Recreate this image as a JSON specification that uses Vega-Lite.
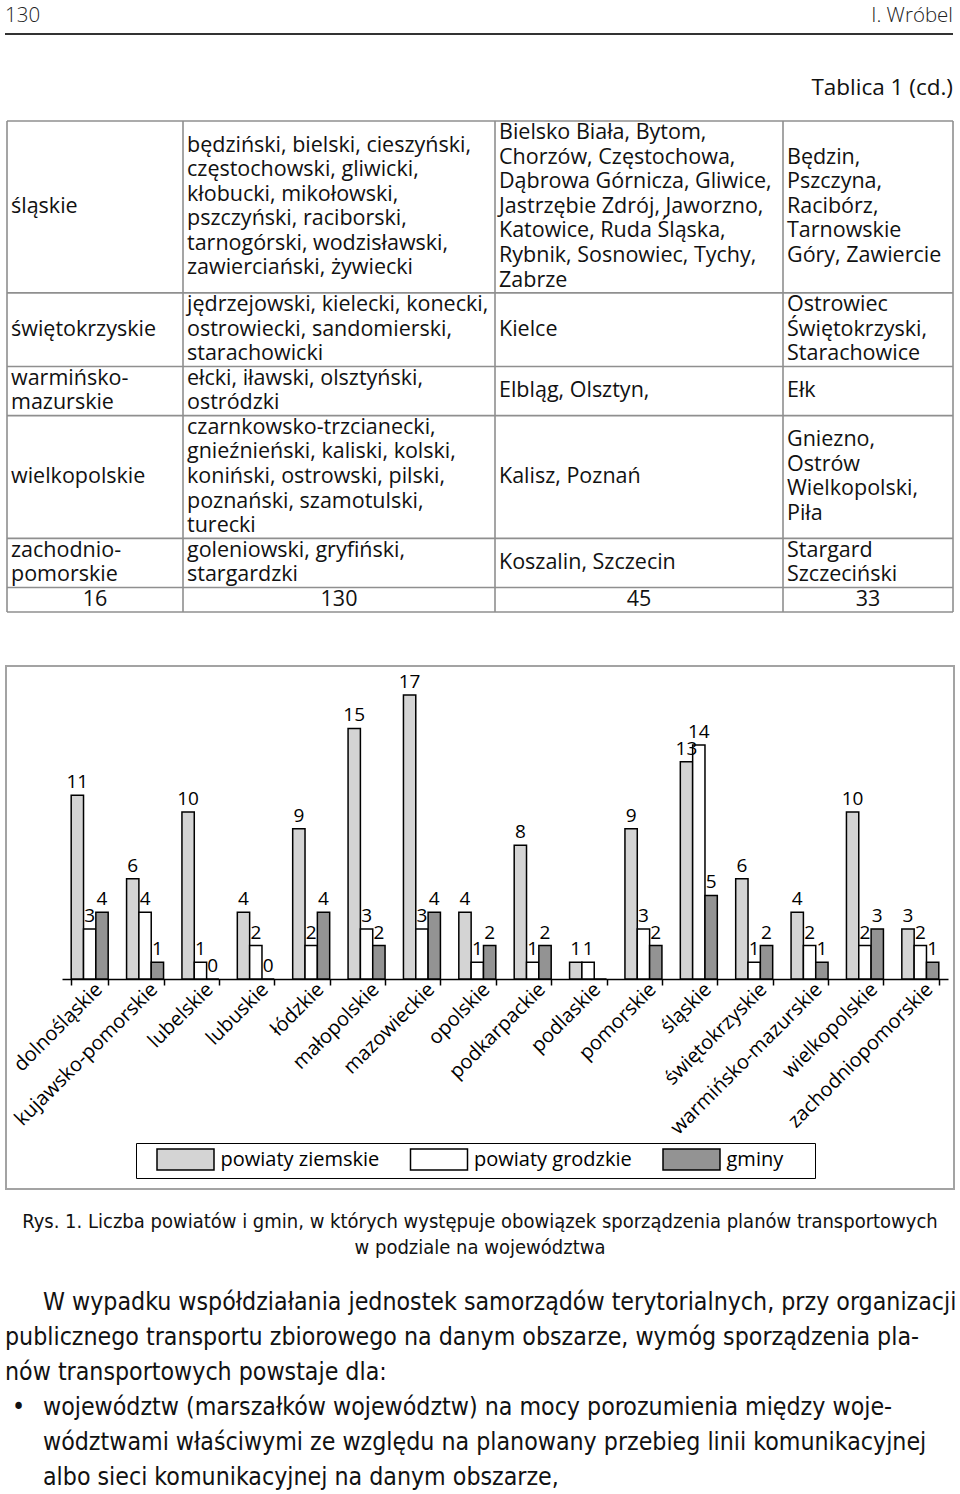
{
  "$schema": "https://vega.github.io/schema/vega-lite/v6.json",
  "padding": {"left": -3, "right": 3, "top": 0, "bottom": 0},
  "background": "white",
  "spacing": 0,
  "bounds": "flush",
  "center": true,
  "config": {"view": {"stroke": null}, "font": "Open Sans"},
  "vconcat": [
    {
      "width": 960,
      "height": 666,
      "layer": [
        {
          "data": {"values": [{"text": "130", "side": 0, "slot": 0}]},
          "mark": {"type": "text", "align": "left", "baseline": "middle", "fontSize": 20.5, "fontWeight": 300, "color": "#222", "font": "Open Sans"},
          "encoding": {
            "x": {"field": "side", "type": "quantitative", "scale": {"domain": [0, 1], "range": [5, 953], "nice": false}, "axis": null},
            "y": {"field": "slot", "type": "quantitative", "scale": {"domain": [0, 1, 2], "range": [15.5, 34, 88], "nice": false}, "axis": null},
            "text": {"field": "text"}
          }
        },
        {
          "data": {"values": [{"text": "I. Wróbel", "side": 1, "slot": 0}]},
          "mark": {"type": "text", "align": "right", "baseline": "middle", "fontSize": 20.5, "fontWeight": 300, "color": "#222", "font": "Open Sans"},
          "encoding": {
            "x": {"field": "side", "type": "quantitative", "scale": {"domain": [0, 1], "range": [5, 953], "nice": false}, "axis": null},
            "y": {"field": "slot", "type": "quantitative", "scale": {"domain": [0, 1, 2], "range": [15.5, 34, 88], "nice": false}, "axis": null},
            "text": {"field": "text"}
          }
        },
        {
          "data": {"values": [{"from": 0, "to": 1, "slot": 1}]},
          "mark": {"type": "rule", "stroke": "#333", "strokeWidth": 2},
          "encoding": {
            "x": {"field": "from", "type": "quantitative", "scale": {"domain": [0, 1], "range": [5, 953], "nice": false}, "axis": null},
            "x2": {"field": "to"},
            "y": {"field": "slot", "type": "quantitative", "scale": {"domain": [0, 1, 2], "range": [15.5, 34, 88], "nice": false}, "axis": null}
          }
        },
        {
          "data": {"values": [{"text": "Tablica 1 (cd.)", "side": 1, "slot": 2}]},
          "mark": {"type": "text", "align": "right", "baseline": "middle", "fontSize": 22.5, "color": "#111", "font": "Open Sans"},
          "encoding": {
            "x": {"field": "side", "type": "quantitative", "scale": {"domain": [0, 1], "range": [5, 953], "nice": false}, "axis": null},
            "y": {"field": "slot", "type": "quantitative", "scale": {"domain": [0, 1, 2], "range": [15.5, 34, 88], "nice": false}, "axis": null},
            "text": {"field": "text"}
          }
        },
        {
          "data": {"values": [
            {"c": 1, "g": 3.5, "text": "śląskie"},
            {"c": 2, "g": 1, "text": "będziński, bielski, cieszyński,"},
            {"c": 2, "g": 2, "text": "częstochowski, gliwicki,"},
            {"c": 2, "g": 3, "text": "kłobucki, mikołowski,"},
            {"c": 2, "g": 4, "text": "pszczyński, raciborski,"},
            {"c": 2, "g": 5, "text": "tarnogórski, wodzisławski,"},
            {"c": 2, "g": 6, "text": "zawierciański, żywiecki"},
            {"c": 3, "g": 0.5, "text": "Bielsko Biała, Bytom,"},
            {"c": 3, "g": 1.5, "text": "Chorzów, Częstochowa,"},
            {"c": 3, "g": 2.5, "text": "Dąbrowa Górnicza, Gliwice,"},
            {"c": 3, "g": 3.5, "text": "Jastrzębie Zdrój, Jaworzno,"},
            {"c": 3, "g": 4.5, "text": "Katowice, Ruda Śląska,"},
            {"c": 3, "g": 5.5, "text": "Rybnik, Sosnowiec, Tychy,"},
            {"c": 3, "g": 6.5, "text": "Zabrze"},
            {"c": 4, "g": 1.5, "text": "Będzin,"},
            {"c": 4, "g": 2.5, "text": "Pszczyna,"},
            {"c": 4, "g": 3.5, "text": "Racibórz,"},
            {"c": 4, "g": 4.5, "text": "Tarnowskie"},
            {"c": 4, "g": 5.5, "text": "Góry, Zawiercie"},
            {"c": 1, "g": 8.5, "text": "świętokrzyskie"},
            {"c": 2, "g": 7.5, "text": "jędrzejowski, kielecki, konecki,"},
            {"c": 2, "g": 8.5, "text": "ostrowiecki, sandomierski,"},
            {"c": 2, "g": 9.5, "text": "starachowicki"},
            {"c": 3, "g": 8.5, "text": "Kielce"},
            {"c": 4, "g": 7.5, "text": "Ostrowiec"},
            {"c": 4, "g": 8.5, "text": "Świętokrzyski,"},
            {"c": 4, "g": 9.5, "text": "Starachowice"},
            {"c": 1, "g": 10.5, "text": "warmińsko-"},
            {"c": 1, "g": 11.5, "text": "mazurskie"},
            {"c": 2, "g": 10.5, "text": "ełcki, iławski, olsztyński,"},
            {"c": 2, "g": 11.5, "text": "ostródzki"},
            {"c": 3, "g": 11, "text": "Elbląg, Olsztyn,"},
            {"c": 4, "g": 11, "text": "Ełk"},
            {"c": 1, "g": 14.5, "text": "wielkopolskie"},
            {"c": 2, "g": 12.5, "text": "czarnkowsko-trzcianecki,"},
            {"c": 2, "g": 13.5, "text": "gnieźnieński, kaliski, kolski,"},
            {"c": 2, "g": 14.5, "text": "koniński, ostrowski, pilski,"},
            {"c": 2, "g": 15.5, "text": "poznański, szamotulski,"},
            {"c": 2, "g": 16.5, "text": "turecki"},
            {"c": 3, "g": 14.5, "text": "Kalisz, Poznań"},
            {"c": 4, "g": 13, "text": "Gniezno,"},
            {"c": 4, "g": 14, "text": "Ostrów"},
            {"c": 4, "g": 15, "text": "Wielkopolski,"},
            {"c": 4, "g": 16, "text": "Piła"},
            {"c": 1, "g": 17.5, "text": "zachodnio-"},
            {"c": 1, "g": 18.5, "text": "pomorskie"},
            {"c": 2, "g": 17.5, "text": "goleniowski, gryfiński,"},
            {"c": 2, "g": 18.5, "text": "stargardzki"},
            {"c": 3, "g": 18, "text": "Koszalin, Szczecin"},
            {"c": 4, "g": 17.5, "text": "Stargard"},
            {"c": 4, "g": 18.5, "text": "Szczeciński"}
          ]},
          "mark": {"type": "text", "align": "left", "baseline": "middle", "fontSize": 21.5, "dx": 4, "color": "#111", "font": "Open Sans"},
          "encoding": {
            "x": {"field": "c", "type": "quantitative", "scale": {"domain": [1, 2, 3, 4], "range": [7, 183, 495, 783], "nice": false}, "axis": null},
            "y": {"field": "g", "type": "quantitative", "scale": {"domain": [0, 20], "range": [121, 612], "nice": false, "zero": false}, "axis": null},
            "text": {"field": "text"}
          }
        },
        {
          "data": {"values": [
            {"c": 1, "g": 19.5, "text": "16"},
            {"c": 2, "g": 19.5, "text": "130"},
            {"c": 3, "g": 19.5, "text": "45"},
            {"c": 4, "g": 19.5, "text": "33"}
          ]},
          "mark": {"type": "text", "align": "center", "baseline": "middle", "fontSize": 21.5, "color": "#111", "font": "Open Sans"},
          "encoding": {
            "x": {"field": "c", "type": "quantitative", "scale": {"domain": [1, 2, 3, 4], "range": [95, 339, 639, 868], "nice": false}, "axis": null},
            "y": {"field": "g", "type": "quantitative", "scale": {"domain": [0, 20], "range": [121, 612], "nice": false, "zero": false}, "axis": null},
            "text": {"field": "text"}
          }
        },
        {
          "data": {"values": [{"g": 0}, {"g": 7}, {"g": 10}, {"g": 12}, {"g": 17}, {"g": 19}, {"g": 20}]},
          "mark": {"type": "rule", "stroke": "#8f8f8f", "strokeWidth": 1.6},
          "encoding": {
            "y": {"field": "g", "type": "quantitative", "scale": {"domain": [0, 20], "range": [121, 612], "nice": false, "zero": false}, "axis": null},
            "x": {"datum": 1, "type": "quantitative", "scale": {"domain": [1, 2, 3, 4, 5], "range": [7, 183, 495, 783, 953], "nice": false}, "axis": null},
            "x2": {"datum": 5}
          }
        },
        {
          "data": {"values": [{"c": 1}, {"c": 2}, {"c": 3}, {"c": 4}, {"c": 5}]},
          "mark": {"type": "rule", "stroke": "#8f8f8f", "strokeWidth": 1.6},
          "encoding": {
            "x": {"field": "c", "type": "quantitative", "scale": {"domain": [1, 2, 3, 4, 5], "range": [7, 183, 495, 783, 953], "nice": false}, "axis": null},
            "y": {"datum": 0, "type": "quantitative", "scale": {"domain": [0, 20], "range": [121, 612], "nice": false}, "axis": null},
            "y2": {"datum": 20}
          }
        }
      ],
      "resolve": {"scale": {"x": "independent", "y": "independent"}}
    },
    {
      "width": 948,
      "height": 523,
      "view": {"stroke": "#a3a3a3", "strokeWidth": 2},
      "data": {"values": [
        {"v": "dolnośląskie", "t": "powiaty ziemskie", "n": 11},
        {"v": "dolnośląskie", "t": "powiaty grodzkie", "n": 3},
        {"v": "dolnośląskie", "t": "gminy", "n": 4},
        {"v": "kujawsko-pomorskie", "t": "powiaty ziemskie", "n": 6},
        {"v": "kujawsko-pomorskie", "t": "powiaty grodzkie", "n": 4},
        {"v": "kujawsko-pomorskie", "t": "gminy", "n": 1},
        {"v": "lubelskie", "t": "powiaty ziemskie", "n": 10},
        {"v": "lubelskie", "t": "powiaty grodzkie", "n": 1},
        {"v": "lubelskie", "t": "gminy", "n": 0},
        {"v": "lubuskie", "t": "powiaty ziemskie", "n": 4},
        {"v": "lubuskie", "t": "powiaty grodzkie", "n": 2},
        {"v": "lubuskie", "t": "gminy", "n": 0},
        {"v": "łódzkie", "t": "powiaty ziemskie", "n": 9},
        {"v": "łódzkie", "t": "powiaty grodzkie", "n": 2},
        {"v": "łódzkie", "t": "gminy", "n": 4},
        {"v": "małopolskie", "t": "powiaty ziemskie", "n": 15},
        {"v": "małopolskie", "t": "powiaty grodzkie", "n": 3},
        {"v": "małopolskie", "t": "gminy", "n": 2},
        {"v": "mazowieckie", "t": "powiaty ziemskie", "n": 17},
        {"v": "mazowieckie", "t": "powiaty grodzkie", "n": 3},
        {"v": "mazowieckie", "t": "gminy", "n": 4},
        {"v": "opolskie", "t": "powiaty ziemskie", "n": 4},
        {"v": "opolskie", "t": "powiaty grodzkie", "n": 1},
        {"v": "opolskie", "t": "gminy", "n": 2},
        {"v": "podkarpackie", "t": "powiaty ziemskie", "n": 8},
        {"v": "podkarpackie", "t": "powiaty grodzkie", "n": 1},
        {"v": "podkarpackie", "t": "gminy", "n": 2},
        {"v": "podlaskie", "t": "powiaty ziemskie", "n": 1},
        {"v": "podlaskie", "t": "powiaty grodzkie", "n": 1},
        {"v": "podlaskie", "t": "gminy", "n": 0},
        {"v": "pomorskie", "t": "powiaty ziemskie", "n": 9},
        {"v": "pomorskie", "t": "powiaty grodzkie", "n": 3},
        {"v": "pomorskie", "t": "gminy", "n": 2},
        {"v": "śląskie", "t": "powiaty ziemskie", "n": 13},
        {"v": "śląskie", "t": "powiaty grodzkie", "n": 14},
        {"v": "śląskie", "t": "gminy", "n": 5},
        {"v": "świętokrzyskie", "t": "powiaty ziemskie", "n": 6},
        {"v": "świętokrzyskie", "t": "powiaty grodzkie", "n": 1},
        {"v": "świętokrzyskie", "t": "gminy", "n": 2},
        {"v": "warmińsko-mazurskie", "t": "powiaty ziemskie", "n": 4},
        {"v": "warmińsko-mazurskie", "t": "powiaty grodzkie", "n": 2},
        {"v": "warmińsko-mazurskie", "t": "gminy", "n": 1},
        {"v": "wielkopolskie", "t": "powiaty ziemskie", "n": 10},
        {"v": "wielkopolskie", "t": "powiaty grodzkie", "n": 2},
        {"v": "wielkopolskie", "t": "gminy", "n": 3},
        {"v": "zachodniopomorskie", "t": "powiaty ziemskie", "n": 3},
        {"v": "zachodniopomorskie", "t": "powiaty grodzkie", "n": 2},
        {"v": "zachodniopomorskie", "t": "gminy", "n": 1}
      ]},
      "layer": [
        {
          "mark": {"type": "bar", "stroke": "black", "strokeWidth": 1.5},
          "encoding": {
            "x": {
              "field": "v", "type": "nominal", "sort": null,
              "scale": {"range": [56, 942], "paddingInner": 0.332, "paddingOuter": 0.166},
              "axis": {"title": null, "labelAngle": -45, "labelAlign": "right", "labelBaseline": "middle", "labelFontSize": 20, "labelColor": "black", "labelFont": "Open Sans", "tickBand": "extent", "tickColor": "black", "tickSize": 6, "tickWidth": 1.5, "domainColor": "black", "domainWidth": 1.5, "offset": -210, "labelPadding": 1, "labelOffset": 9, "labelLimit": 400}
            },
            "xOffset": {"field": "t", "type": "nominal", "sort": ["powiaty ziemskie", "powiaty grodzkie", "gminy"]},
            "y": {"field": "n", "type": "quantitative", "scale": {"domain": [0, 17], "range": [313, 29], "nice": false}, "axis": null},
            "fill": {
              "field": "t", "type": "nominal",
              "scale": {"domain": ["powiaty ziemskie", "powiaty grodzkie", "gminy"], "range": ["#d4d4d4", "#ffffff", "#939393"]},
              "legend": {"orient": "none", "legendX": 136, "legendY": 1143, "direction": "horizontal", "title": "\u00a0", "titleOrient": "right", "titlePadding": 27, "titleFontSize": 2, "symbolType": "M-2.714,-1H2.714V1H-2.714Z", "symbolSize": 441, "symbolStrokeColor": "black", "symbolStrokeWidth": 1.5, "symbolOffset": 33, "labelOffset": 23.5, "labelFontSize": 20, "labelFont": "Open Sans", "labelColor": "black", "strokeColor": "black", "padding": 5, "columnPadding": 14.5}
            }
          }
        },
        {
          "transform": [{"filter": "!(datum.v == 'podlaskie' && datum.t == 'gminy')"}],
          "mark": {"type": "text", "baseline": "alphabetic", "dy": -7, "fontSize": 19, "color": "black", "font": "Open Sans"},
          "encoding": {
            "x": {"field": "v", "type": "nominal", "sort": null},
            "xOffset": {"field": "t", "type": "nominal", "sort": ["powiaty ziemskie", "powiaty grodzkie", "gminy"]},
            "y": {"field": "n", "type": "quantitative"},
            "text": {"field": "n", "type": "quantitative"}
          }
        }
      ]
    },
    {
      "width": 960,
      "height": 305,
      "layer": [
        {
          "data": {"values": [
            {"k": 0, "text": "Rys. 1. Liczba powiatów i gmin, w których występuje obowiązek sporządzenia planów transportowych"},
            {"k": 1, "text": "w podziale na województwa"}
          ]},
          "mark": {"type": "text", "align": "center", "baseline": "middle", "fontSize": 20, "color": "#111", "font": "DejaVu Sans Condensed"},
          "encoding": {
            "y": {"field": "k", "type": "quantitative", "scale": {"domain": [0, 1], "range": [33, 59], "nice": false}, "axis": null},
            "text": {"field": "text"}
          }
        },
        {
          "data": {"values": [
            {"k": 2, "ind": 1, "text": "W wypadku współdziałania jednostek samorządów terytorialnych, przy organizacji"},
            {"k": 3, "ind": 0, "text": "publicznego transportu zbiorowego na danym obszarze, wymóg sporządzenia pla-"},
            {"k": 4, "ind": 0, "text": "nów transportowych powstaje dla:"},
            {"k": 5, "ind": 2, "text": "•"},
            {"k": 5, "ind": 1, "text": "województw (marszałków województw) na mocy porozumienia między woje-"},
            {"k": 6, "ind": 1, "text": "wództwami właściwymi ze względu na planowany przebieg linii komunikacyjnej"},
            {"k": 7, "ind": 1, "text": "albo sieci komunikacyjnej na danym obszarze,"}
          ]},
          "mark": {"type": "text", "align": "left", "baseline": "middle", "fontSize": 24.7, "color": "#111", "font": "DejaVu Sans Condensed"},
          "encoding": {
            "x": {"field": "ind", "type": "quantitative", "scale": {"domain": [0, 1, 2], "range": [5, 43, 12], "nice": false}, "axis": null},
            "y": {"field": "k", "type": "quantitative", "scale": {"domain": [2, 7], "range": [114, 289], "nice": false}, "axis": null},
            "text": {"field": "text"}
          }
        }
      ],
      "resolve": {"scale": {"x": "independent", "y": "independent"}}
    }
  ]
}
